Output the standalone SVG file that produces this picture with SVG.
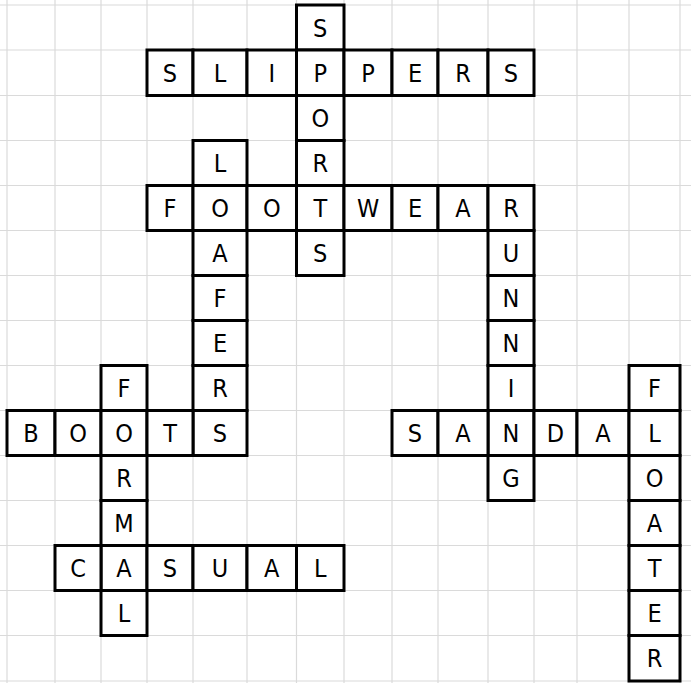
<svg xmlns="http://www.w3.org/2000/svg" width="691" height="683" viewBox="0 0 691 683">
<style>
.grid line{stroke:#dadada;stroke-width:1.2}
.cell rect{fill:#ffffff;stroke:#000000;stroke-width:3}
.cell text{font-family:"DejaVu Sans Condensed","DejaVu Sans","Liberation Sans",sans-serif;font-stretch:condensed;font-size:25px;fill:#000000;text-anchor:middle}
</style>
<rect x="0" y="0" width="691" height="683" fill="#ffffff"/>
<g class="grid" id="grid">
<line x1="7" y1="0" x2="7" y2="683"/><line x1="55" y1="0" x2="55" y2="683"/><line x1="101" y1="0" x2="101" y2="683"/><line x1="147" y1="0" x2="147" y2="683"/><line x1="193" y1="0" x2="193" y2="683"/><line x1="247" y1="0" x2="247" y2="683"/><line x1="296.5" y1="0" x2="296.5" y2="683"/><line x1="344" y1="0" x2="344" y2="683"/><line x1="392" y1="0" x2="392" y2="683"/><line x1="438" y1="0" x2="438" y2="683"/><line x1="488" y1="0" x2="488" y2="683"/><line x1="534" y1="0" x2="534" y2="683"/><line x1="577" y1="0" x2="577" y2="683"/><line x1="629" y1="0" x2="629" y2="683"/><line x1="680" y1="0" x2="680" y2="683"/>
<line x1="0" y1="5" x2="691" y2="5"/><line x1="0" y1="50" x2="691" y2="50"/><line x1="0" y1="95.5" x2="691" y2="95.5"/><line x1="0" y1="140.5" x2="691" y2="140.5"/><line x1="0" y1="185.5" x2="691" y2="185.5"/><line x1="0" y1="230.5" x2="691" y2="230.5"/><line x1="0" y1="275.5" x2="691" y2="275.5"/><line x1="0" y1="320.5" x2="691" y2="320.5"/><line x1="0" y1="365.5" x2="691" y2="365.5"/><line x1="0" y1="410.5" x2="691" y2="410.5"/><line x1="0" y1="455.5" x2="691" y2="455.5"/><line x1="0" y1="500.5" x2="691" y2="500.5"/><line x1="0" y1="545.5" x2="691" y2="545.5"/><line x1="0" y1="590.5" x2="691" y2="590.5"/><line x1="0" y1="635.5" x2="691" y2="635.5"/><line x1="0" y1="681" x2="691" y2="681"/>
</g>
<g class="cell" id="word-sports">
<rect x="296.5" y="5" width="47.5" height="45"/><text x="320.25" y="36.5">S</text>
<rect x="296.5" y="50" width="47.5" height="45.5"/><text x="320.25" y="81.75">P</text>
<rect x="296.5" y="95.5" width="47.5" height="45"/><text x="320.25" y="127">O</text>
<rect x="296.5" y="140.5" width="47.5" height="45"/><text x="320.25" y="172">R</text>
<rect x="296.5" y="185.5" width="47.5" height="45"/><text x="320.25" y="217">T</text>
<rect x="296.5" y="230.5" width="47.5" height="45"/><text x="320.25" y="262">S</text>
</g>
<g class="cell" id="word-slippers">
<rect x="147" y="50" width="46" height="45.5"/><text x="170" y="81.75">S</text>
<rect x="193" y="50" width="54" height="45.5"/><text x="220" y="81.75">L</text>
<rect x="247" y="50" width="49.5" height="45.5"/><text x="271.75" y="81.75">I</text>
<rect x="344" y="50" width="48" height="45.5"/><text x="368" y="81.75">P</text>
<rect x="392" y="50" width="46" height="45.5"/><text x="415" y="81.75">E</text>
<rect x="438" y="50" width="50" height="45.5"/><text x="463" y="81.75">R</text>
<rect x="488" y="50" width="46" height="45.5"/><text x="511" y="81.75">S</text>
</g>
<g class="cell" id="word-footwear">
<rect x="147" y="185.5" width="46" height="45"/><text x="170" y="217">F</text>
<rect x="193" y="185.5" width="54" height="45"/><text x="220" y="217">O</text>
<rect x="247" y="185.5" width="49.5" height="45"/><text x="271.75" y="217">O</text>
<rect x="344" y="185.5" width="48" height="45"/><text x="368" y="217">W</text>
<rect x="392" y="185.5" width="46" height="45"/><text x="415" y="217">E</text>
<rect x="438" y="185.5" width="50" height="45"/><text x="463" y="217">A</text>
<rect x="488" y="185.5" width="46" height="45"/><text x="511" y="217">R</text>
</g>
<g class="cell" id="word-loafers">
<rect x="193" y="140.5" width="54" height="45"/><text x="220" y="172">L</text>
<rect x="193" y="230.5" width="54" height="45"/><text x="220" y="262">A</text>
<rect x="193" y="275.5" width="54" height="45"/><text x="220" y="307">F</text>
<rect x="193" y="320.5" width="54" height="45"/><text x="220" y="352">E</text>
<rect x="193" y="365.5" width="54" height="45"/><text x="220" y="397">R</text>
<rect x="193" y="410.5" width="54" height="45"/><text x="220" y="442">S</text>
</g>
<g class="cell" id="word-running">
<rect x="488" y="230.5" width="46" height="45"/><text x="511" y="262">U</text>
<rect x="488" y="275.5" width="46" height="45"/><text x="511" y="307">N</text>
<rect x="488" y="320.5" width="46" height="45"/><text x="511" y="352">N</text>
<rect x="488" y="365.5" width="46" height="45"/><text x="511" y="397">I</text>
<rect x="488" y="410.5" width="46" height="45"/><text x="511" y="442">N</text>
<rect x="488" y="455.5" width="46" height="45"/><text x="511" y="487">G</text>
</g>
<g class="cell" id="word-boots">
<rect x="7" y="410.5" width="48" height="45"/><text x="31" y="442">B</text>
<rect x="55" y="410.5" width="46" height="45"/><text x="78" y="442">O</text>
<rect x="101" y="410.5" width="46" height="45"/><text x="124" y="442">O</text>
<rect x="147" y="410.5" width="46" height="45"/><text x="170" y="442">T</text>
</g>
<g class="cell" id="word-formal">
<rect x="101" y="365.5" width="46" height="45"/><text x="124" y="397">F</text>
<rect x="101" y="455.5" width="46" height="45"/><text x="124" y="487">R</text>
<rect x="101" y="500.5" width="46" height="45"/><text x="124" y="532">M</text>
<rect x="101" y="545.5" width="46" height="45"/><text x="124" y="577">A</text>
<rect x="101" y="590.5" width="46" height="45"/><text x="124" y="622">L</text>
</g>
<g class="cell" id="word-casual">
<rect x="55" y="545.5" width="46" height="45"/><text x="78" y="577">C</text>
<rect x="147" y="545.5" width="46" height="45"/><text x="170" y="577">S</text>
<rect x="193" y="545.5" width="54" height="45"/><text x="220" y="577">U</text>
<rect x="247" y="545.5" width="49.5" height="45"/><text x="271.75" y="577">A</text>
<rect x="296.5" y="545.5" width="47.5" height="45"/><text x="320.25" y="577">L</text>
</g>
<g class="cell" id="word-sandal">
<rect x="392" y="410.5" width="46" height="45"/><text x="415" y="442">S</text>
<rect x="438" y="410.5" width="50" height="45"/><text x="463" y="442">A</text>
<rect x="534" y="410.5" width="43" height="45"/><text x="555.5" y="442">D</text>
<rect x="577" y="410.5" width="52" height="45"/><text x="603" y="442">A</text>
<rect x="629" y="410.5" width="51" height="45"/><text x="654.5" y="442">L</text>
</g>
<g class="cell" id="word-floater">
<rect x="629" y="365.5" width="51" height="45"/><text x="654.5" y="397">F</text>
<rect x="629" y="455.5" width="51" height="45"/><text x="654.5" y="487">O</text>
<rect x="629" y="500.5" width="51" height="45"/><text x="654.5" y="532">A</text>
<rect x="629" y="545.5" width="51" height="45"/><text x="654.5" y="577">T</text>
<rect x="629" y="590.5" width="51" height="45"/><text x="654.5" y="622">E</text>
<rect x="629" y="635.5" width="51" height="45.5"/><text x="654.5" y="667.25">R</text>
</g>
</svg>
